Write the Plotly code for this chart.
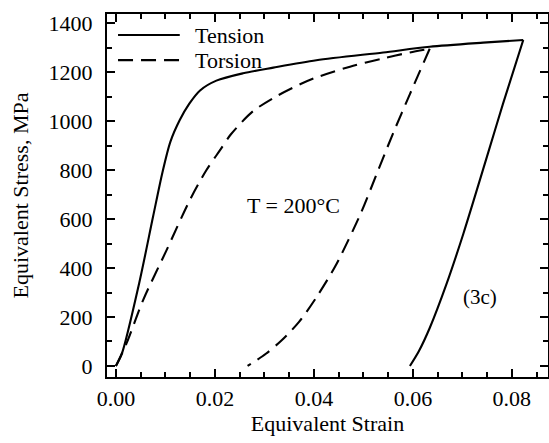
import plotly.graph_objects as go

# ---- data ----
tension_load_strain = [0.0, 0.0012, 0.0047, 0.0075, 0.0094, 0.0110, 0.0129, 0.0148, 0.0170,
                       0.0203, 0.0257, 0.0318, 0.0405, 0.054, 0.0634, 0.0742, 0.0823]
tension_load_stress = [0, 50, 338, 609, 790, 915, 1004, 1070, 1125,
                       1165, 1195, 1218, 1248, 1280, 1303, 1320, 1331]

tension_unload_strain = [0.0823, 0.0782, 0.0752, 0.0702, 0.0668, 0.0634, 0.0612, 0.0594]
tension_unload_stress = [1331, 1070, 870, 540, 335, 155, 60, 0]

torsion_load_strain = [0.0, 0.00216, 0.0055, 0.01024, 0.01495, 0.0183, 0.021, 0.0232,
                       0.0277, 0.0325, 0.0372, 0.0405, 0.0473, 0.054, 0.0594, 0.0634]
torsion_load_stress = [0, 93, 269, 473, 678, 800, 880, 945,
                       1040, 1102, 1150, 1178, 1222, 1256, 1280, 1295]

torsion_unload_strain = [0.0634, 0.0594, 0.056, 0.053, 0.0494, 0.0444, 0.0405, 0.037,
                         0.0335, 0.0303, 0.0266]
torsion_unload_stress = [1295, 1110, 950, 800, 620, 410, 280, 180, 105, 50, 0]

x_tick_values = [0.0, 0.02, 0.04, 0.06, 0.08]
x_tick_labels = ["0.00", "0.02", "0.04", "0.06", "0.08"]
y_tick_values = [0, 200, 400, 600, 800, 1000, 1200, 1400]
y_tick_labels = ["0", "200", "400", "600", "800", "1000", "1200", "1400"]
x_minor_step = 0.005
y_minor_step = 100

series_names = ["Tension", "Torsion"]

FONT = "Liberation Serif, Times New Roman, serif"
LW = 2.1
DASH = "15px,8px"

fig = go.Figure()
spline = dict(shape="spline", smoothing=0.8)
fig.add_trace(go.Scatter(x=tension_load_strain, y=tension_load_stress, mode="lines",
                         line=dict(color="black", width=LW, **spline),
                         name=series_names[0], showlegend=False))
fig.add_trace(go.Scatter(x=tension_unload_strain, y=tension_unload_stress, mode="lines",
                         line=dict(color="black", width=LW, **spline), showlegend=False))
fig.add_trace(go.Scatter(x=torsion_load_strain, y=torsion_load_stress, mode="lines",
                         line=dict(color="black", width=LW, dash=DASH, **spline),
                         name=series_names[1], showlegend=False))
fig.add_trace(go.Scatter(x=torsion_unload_strain, y=torsion_unload_stress, mode="lines",
                         line=dict(color="black", width=LW, dash=DASH, **spline), showlegend=False))

# manual legend (paper coordinates)
legend_rows = [(series_names[0], None, 0.942), (series_names[1], DASH, 0.873)]
for name, dash, yy in legend_rows:
    fig.add_shape(type="line", xref="paper", yref="paper", x0=0.025, x1=0.165, y0=yy, y1=yy,
                  line=dict(color="black", width=LW, dash=dash))
    fig.add_annotation(xref="paper", yref="paper", x=0.195, y=yy, text=name, showarrow=False,
                       xanchor="left", yanchor="middle", font=dict(family=FONT, size=22, color="black"))

fig.add_annotation(x=0.0358, y=655, text="T = 200°C", showarrow=False,
                   font=dict(family=FONT, size=22, color="black"))
fig.add_annotation(x=0.0736, y=283, text="(3c)", showarrow=False,
                   font=dict(family=FONT, size=21, color="black"))

fig.update_xaxes(range=[-0.0018, 0.0873], tickmode="linear",
                 tick0=x_tick_values[0], dtick=x_tick_values[1] - x_tick_values[0],
                 tickformat=".2f",
                 showline=True, linecolor="black", linewidth=2.4, mirror="ticks",
                 ticks="inside", ticklen=8, tickwidth=1.8, tickcolor="black",
                 minor=dict(ticks="inside", tick0=0, dtick=x_minor_step, ticklen=5,
                            tickcolor="black", tickwidth=1.5, showgrid=False),
                 showgrid=False, zeroline=False, automargin=False,
                 tickfont=dict(family=FONT, size=22, color="black"),
                 title=dict(text="Equivalent Strain", font=dict(family=FONT, size=22, color="black"),
                            standoff=4))
fig.update_yaxes(range=[-45, 1437], tickmode="linear",
                 tick0=y_tick_values[0], dtick=y_tick_values[1] - y_tick_values[0],
                 tickformat="d",
                 showline=True, linecolor="black", linewidth=2.4, mirror="ticks",
                 ticks="inside", ticklen=8, tickwidth=1.8, tickcolor="black",
                 minor=dict(ticks="inside", tick0=0, dtick=y_minor_step, ticklen=5,
                            tickcolor="black", tickwidth=1.5, showgrid=False),
                 showgrid=False, zeroline=False, automargin=False,
                 ticklabelstandoff=8,
                 tickfont=dict(family=FONT, size=22, color="black"),
                 title=dict(text="Equivalent Stress, MPa", font=dict(family=FONT, size=22, color="black"),
                            standoff=14))

fig.update_layout(width=549, height=443,
                  margin=dict(l=107, r=1, t=14, b=66),
                  plot_bgcolor="white", paper_bgcolor="white", showlegend=False,
                  font=dict(family=FONT, color="black"))

fig.write_html("out.html", config={"displayModeBar": False},
               post_script="document.body.style.margin='0px';")
